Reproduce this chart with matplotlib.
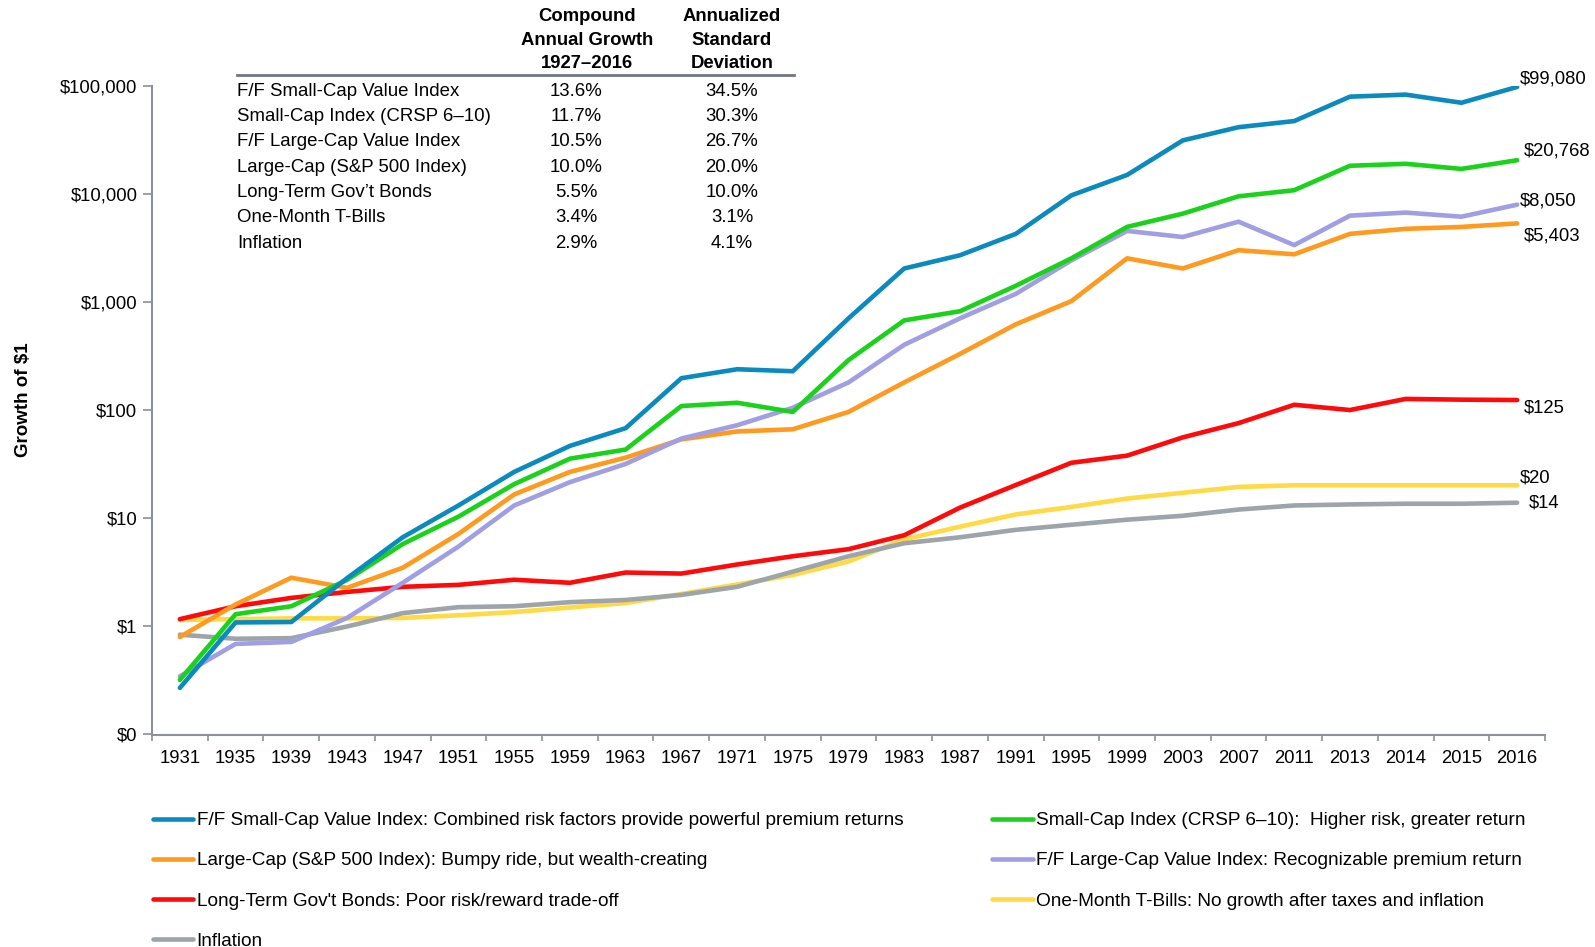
import matplotlib.pyplot as plt
from matplotlib.lines import Line2D

plt.rcParams['font.family'] = ['Liberation Sans', 'DejaVu Sans']

years = ['1931', '1935', '1939', '1943', '1947', '1951', '1955', '1959', '1963',
         '1967', '1971', '1975', '1979', '1983', '1987', '1991', '1995', '1999',
         '2003', '2007', '2011', '2013', '2014', '2015', '2016']

# growth of $1
small_value = [0.27, 1.09, 1.1, 2.8, 6.7, 13.2, 27, 47, 68.6, 199, 241, 231, 713,
               2065, 2737, 4315, 9820, 15170, 31700, 42000, 47860, 80500, 84100,
               70700, 99080]
small_cap = [0.32, 1.3, 1.54, 2.7, 5.8, 10.4, 20.8, 35.8, 43.5, 110, 118, 97, 293,
             683, 830, 1426, 2563, 5012, 6650, 9620, 10960, 18450, 19240, 17260,
             20768]
large_value = [0.346, 0.69, 0.72, 1.2, 2.54, 5.5, 13.2, 21.7, 32, 55, 73, 106, 182,
               406, 713, 1200, 2455, 4600, 4040, 5600, 3400, 6370, 6800, 6230, 8050]
large_cap = [0.8, 1.6, 2.83, 2.28, 3.5, 7.2, 16.7, 27, 36.6, 54, 64, 67, 97, 182,
             334, 627, 1030, 2565, 2065, 3050, 2795, 4320, 4810, 5010, 5403]
bonds = [1.17, 1.54, 1.84, 2.09, 2.33, 2.43, 2.71, 2.54, 3.16, 3.09, 3.75, 4.47,
         5.2, 7.0, 12.6, 20.4, 32.8, 38.2, 56.4, 76.4, 113, 101, 128, 126, 125]
tbills = [1.15, 1.17, 1.19, 1.19, 1.2, 1.27, 1.36, 1.5, 1.65, 2.0, 2.45, 3.0, 4.0,
          6.4, 8.4, 10.9, 12.8, 15.3, 17.3, 19.6, 20.3, 20.3, 20.3, 20.3, 20.3]
inflation = [0.84, 0.77, 0.78, 1.0, 1.33, 1.51, 1.54, 1.68, 1.76, 1.96, 2.33, 3.22,
             4.47, 5.9, 6.7, 7.85, 8.75, 9.75, 10.6, 12.1, 13.2, 13.5, 13.7, 13.7, 14]

legend_labels = [
    'F/F Small-Cap Value Index: Combined risk factors provide powerful premium returns',
    'Small-Cap Index (CRSP 6\u201310):  Higher risk, greater return',
    'Large-Cap (S&P 500 Index): Bumpy ride, but wealth-creating',
    'F/F Large-Cap Value Index: Recognizable premium return',
    "Long-Term Gov't Bonds: Poor risk/reward trade-off",
    'One-Month T-Bills: No growth after taxes and inflation',
    'Inflation',
]
end_labels = ['$99,080', '$20,768', '$5,403', '$8,050', '$125', '$20', '$14']

table_names = ['F/F Small-Cap Value Index', 'Small-Cap Index (CRSP 6\u201310)',
               'F/F Large-Cap Value Index', 'Large-Cap (S&P 500 Index)',
               'Long-Term Gov\u2019t Bonds', 'One-Month T-Bills', 'Inflation']
table_growth = ['13.6%', '11.7%', '10.5%', '10.0%', '5.5%', '3.4%', '2.9%']
table_sd = ['34.5%', '30.3%', '26.7%', '20.0%', '10.0%', '3.1%', '4.1%']

ytick_vals = [0.1, 1, 10, 100, 1000, 10000, 100000]
ytick_labels = ['$0', '$1', '$10', '$100', '$1,000', '$10,000', '$100,000']

series = [small_value, small_cap, large_cap, large_value, bonds, tbills, inflation]
colors = ['#0B8AC0', '#1AD21A', '#FF9A1F', '#A09EE4', '#FF0A0A', '#FFDA45', '#9DA4AA']
# offsets of the end labels in pixels
offs = [(3, 8), (7, 9), (7, -13), (3, 4), (7, -8), (3, 7), (12, 0)]

W, H = 1595, 947
fig = plt.figure(figsize=(W / 100, H / 100), dpi=100)
ax = fig.add_axes([152 / W, 1 - 734.5 / H, 1393 / W, 648 / H])

x = list(range(len(years)))
draw_order = [5, 6, 4, 2, 3, 1, 0]
handles = {}
for i in draw_order:
    ln, = ax.plot(x, series[i], color=colors[i], lw=3.3, solid_capstyle='round',
                  solid_joinstyle='round')
    handles[i] = ln

for i in range(len(series)):
    ax.annotate(end_labels[i], xy=(x[-1], series[i][-1]), xytext=offs[i],
                textcoords='offset pixels', ha='left', va='center', fontsize=13.3)

ax.set_yscale('log')
ax.set_ylim(0.1, 100000)
ax.set_xlim(-0.5, len(years) - 0.5)
ax.set_yticks(ytick_vals)
ax.set_yticklabels(ytick_labels)
ax.yaxis.set_minor_locator(plt.NullLocator())
ax.set_xticks(x)
ax.set_xticklabels(years)
ax.set_xticks([i - 0.5 for i in range(len(years) + 1)], minor=True)
ax.tick_params(axis='x', which='major', length=0, pad=11.5, labelsize=13.3)
ax.tick_params(axis='x', which='minor', length=4.5, color='#8A9198', width=1.2)
ax.tick_params(axis='y', which='major', length=6.5, color='#8A9198', width=1.2,
               labelsize=13.3, pad=4)
for s in ['top', 'right']:
    ax.spines[s].set_visible(False)
for s in ['left', 'bottom']:
    ax.spines[s].set_color('#8A9198')
    ax.spines[s].set_linewidth(1.5)

ax.set_ylabel('Growth of $1', fontsize=13.5, fontweight='bold')
ax.yaxis.set_label_coords(-0.0865, 0.516)

# summary table on top of the chart
def fx(px):
    return px / W

def fy(py):
    return 1 - py / H

hdr1 = ['Compound', 'Annual Growth', '1927\u20132016']
hdr2 = ['Annualized', 'Standard', 'Deviation']
for k, yy in enumerate([16.5, 40.5, 64]):
    fig.text(fx(587), fy(yy), hdr1[k], ha='center', va='center', fontsize=13.3,
             fontweight='bold')
    fig.text(fx(732), fy(yy), hdr2[k], ha='center', va='center', fontsize=13.3,
             fontweight='bold')
fig.add_artist(Line2D([fx(237), fx(794)], [fy(75), fy(75)], color='#6E7781',
                      lw=2, transform=fig.transFigure))
for k in range(len(table_names)):
    yy = 91 + 25.4 * k
    fig.text(fx(237), fy(yy), table_names[k], ha='left', va='center', fontsize=13.4)
    fig.text(fx(576), fy(yy), table_growth[k], ha='center', va='center', fontsize=13.4)
    fig.text(fx(732), fy(yy), table_sd[k], ha='center', va='center', fontsize=13.4)

leg_order = [0, 2, 4, 6, 1, 3, 5]
fig.legend([handles[i] for i in leg_order], [legend_labels[i] for i in leg_order],
           loc='upper left', bbox_to_anchor=(fx(152.5), fy(812)), ncol=2, frameon=False,
           fontsize=13.7, handlelength=2.15, handletextpad=0.17, labelspacing=1.2,
           columnspacing=4.65, borderaxespad=0, borderpad=0)

fig.savefig('out.png', dpi=100)
